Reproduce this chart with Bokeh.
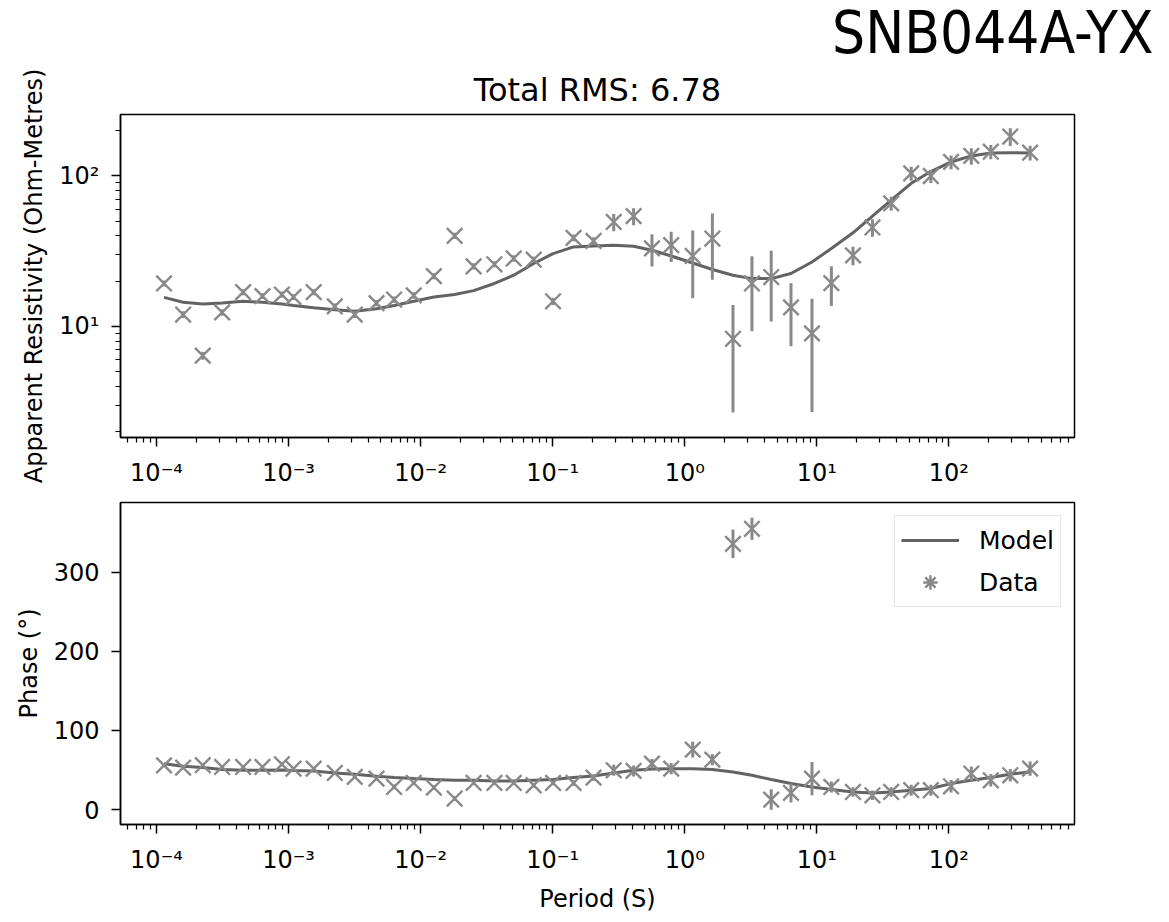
from bokeh.plotting import figure
from bokeh.layouts import column
from bokeh.models import (ColumnDataSource, Range1d, FixedTicker, CustomJSTickFormatter,
                          Title, Legend, LegendItem)
from bokeh.embed import file_html
from bokeh.resources import INLINE

# ---- station response: periods (s), apparent resistivity (Ohm-m) and phase (deg) ----
station = "SNB044A-YX"
total_rms = 6.78

period = [1.14e-4, 1.59e-4, 2.24e-4, 3.14e-4, 4.53e-4, 6.34e-4, 8.9e-4, 1.09e-3,
          1.55e-3, 2.24e-3, 3.17e-3, 4.63e-3, 6.3e-3, 8.87e-3, 1.26e-2, 1.81e-2,
          2.52e-2, 3.62e-2, 5.07e-2, 7.18e-2, 0.1007, 0.144, 0.204, 0.29, 0.41,
          0.565, 0.79, 1.15, 1.62, 2.32, 3.23, 4.52, 6.38, 9.2, 12.9, 18.8, 26.4,
          36.6, 51.9, 73.1, 104.0, 148.0, 208.0, 292.0, 413.0]

rho_data = [19.3, 12.0, 6.4, 12.4, 16.9, 15.9, 16.3, 15.7, 16.9, 13.6, 12.0, 14.3,
            15.1, 16.1, 21.6, 40.0, 25.1, 25.9, 28.3, 27.8, 14.7, 38.8, 37.0, 49.5,
            54.1, 33.0, 34.7, 29.4, 38.4, 8.28, 19.3, 21.3, 13.4, 9.0, 19.4, 29.7,
            45.5, 65.8, 104.0, 100.0, 124.0, 136.0, 145.0, 183.0, 143.0]

rho_err = [0.9, 0.6, 0.4, 0.6, 0.8, 0.7, 0.8, 0.7, 0.8, 0.6, 0.6, 0.7,
           0.7, 0.8, 1.0, 1.9, 1.2, 1.2, 1.4, 1.3, 0.8, 2.0, 2.2, 6.5,
           7.0, 8.0, 7.9, 14.0, 18.0, 5.6, 10.0, 10.5, 6.0, 6.3, 5.7, 4.2,
           6.0, 7.0, 11.0, 10.0, 13.0, 17.0, 16.0, 25.0, 16.0]

rho_model = [15.6, 14.5, 14.1, 14.3, 14.7, 14.5, 14.1, 13.8, 13.3, 12.9, 12.6, 13.1,
             13.8, 14.7, 15.7, 16.3, 17.3, 19.3, 21.9, 26.2, 30.5, 33.8, 34.2, 34.7,
             34.1, 32.1, 29.4, 26.4, 23.9, 21.9, 20.8, 20.8, 22.5, 26.8, 33.0, 41.9,
             54.1, 69.2, 89.4, 107.0, 124.0, 136.0, 142.0, 143.0, 142.0]

phase_data = [55.9, 53.0, 56.0, 53.8, 53.8, 53.8, 57.2, 51.7, 51.7, 46.2, 41.2, 39.1,
              28.5, 33.6, 27.8, 13.9, 33.6, 33.6, 33.6, 30.7, 33.6, 33.6, 40.4, 49.6,
              48.8, 58.0, 51.7, 75.8, 63.1, 335.8, 354.8, 12.6, 21.0, 39.1, 28.5, 22.2,
              18.0, 22.2, 24.4, 24.4, 29.4, 45.5, 37.0, 43.3, 51.7]

phase_err = [2.0, 2.0, 2.0, 2.0, 2.0, 2.0, 2.5, 2.0, 2.0, 2.0, 2.0, 2.5,
             3.0, 2.5, 3.0, 3.0, 2.5, 2.5, 2.5, 3.0, 3.0, 3.5, 4.0, 7.0,
             7.0, 6.0, 7.0, 10.0, 7.0, 18.0, 14.0, 13.0, 12.0, 21.0, 7.0, 6.0,
             6.0, 6.0, 7.0, 7.0, 8.0, 9.0, 8.0, 8.0, 9.0]

phase_model = [58.0, 54.7, 53.0, 50.5, 49.6, 49.6, 49.9, 49.2, 48.8, 46.2, 44.6, 42.0,
               40.4, 39.1, 37.9, 37.0, 37.0, 36.1, 36.1, 37.0, 37.9, 40.4, 42.5, 46.2,
               49.6, 51.3, 51.7, 51.7, 50.5, 47.5, 43.3, 37.9, 32.8, 28.5, 25.3, 22.2,
               21.0, 22.2, 24.4, 26.5, 32.8, 37.0, 40.4, 44.6, 47.5]

FONT = "DejaVu Sans"
DATA_COLOR = "#898989"
MODEL_COLOR = "#636363"

rho_src = ColumnDataSource(dict(
    period=period, rho=rho_data,
    lo=[v - e for v, e in zip(rho_data, rho_err)],
    hi=[v + e for v, e in zip(rho_data, rho_err)],
))
phase_src = ColumnDataSource(dict(
    period=period, phase=phase_data,
    lo=[v - e for v, e in zip(phase_data, phase_err)],
    hi=[v + e for v, e in zip(phase_data, phase_err)],
))

pow10_labels = CustomJSTickFormatter(code="""
const sup = {"-": "\u207b", "0": "\u2070", "1": "\u00b9", "2": "\u00b2", "3": "\u00b3",
             "4": "\u2074", "5": "\u2075", "6": "\u2076", "7": "\u2077", "8": "\u2078", "9": "\u2079"};
const e = Math.round(Math.log10(tick));
return "10" + String(e).split("").map(c => sup[c]).join("");
""")

x_major = [1e-4, 1e-3, 1e-2, 1e-1, 1.0, 10.0, 100.0]
x_minor = [m * 10.0 ** k for k in range(-5, 3) for m in range(2, 10)]
x_range = Range1d(5.336e-5, 895.0)


def style(p):
    p.xgrid.visible = False
    p.ygrid.visible = False
    p.outline_line_color = "black"
    p.outline_line_width = 1.5
    p.outline_line_alpha = 1.0
    p.background_fill_color = "white"
    p.border_fill_color = "white"
    for ax in (p.xaxis[0], p.yaxis[0]):
        ax.axis_line_color = "black"
        ax.axis_line_width = 1.5
        ax.major_tick_line_width = 1.5
        ax.major_tick_out = 9
        ax.major_tick_in = 0
        ax.minor_tick_line_width = 1.2
        ax.minor_tick_out = 5
        ax.minor_tick_in = 0
        ax.major_label_text_font = FONT
        ax.major_label_text_font_size = "24px"
        ax.major_label_text_color = "black"
        ax.major_label_standoff = 12
        ax.axis_label_text_font = FONT
        ax.axis_label_text_font_size = "24px"
        ax.axis_label_text_font_style = "normal"
        ax.axis_label_text_color = "black"
        ax.axis_label_standoff = 8
    p.xaxis.ticker = FixedTicker(ticks=x_major, minor_ticks=x_minor)
    p.xaxis.formatter = pow10_labels


def draw_data(p, src, ycol):
    p.segment(x0="period", y0="lo", x1="period", y1="hi", source=src,
              line_color=DATA_COLOR, line_width=3)
    return p.scatter("period", ycol, source=src, marker="x", size=22,
                     line_color=DATA_COLOR, line_width=2.4)


# ---- apparent resistivity ----
p1 = figure(width=1169, height=490, x_axis_type="log", y_axis_type="log",
            x_range=x_range, y_range=Range1d(1.828, 256.3),
            output_backend="svg", toolbar_location=None,
            min_border_left=120, min_border_right=95,
            min_border_top=0, min_border_bottom=53)
style(p1)
p1.yaxis.ticker = FixedTicker(ticks=[10.0, 100.0],
                              minor_ticks=[m * 10.0 ** k for k in range(0, 3) for m in range(2, 10)])
p1.yaxis.formatter = pow10_labels
p1.yaxis.axis_label = "Apparent Resistivity (Ohm-Metres)"

p1.line(period, rho_model, line_color=MODEL_COLOR, line_width=3)
draw_data(p1, rho_src, "rho")

p1.add_layout(Title(text=f"Total RMS: {total_rms:.2f}", align="center",
                    text_font=FONT, text_font_size="32px", text_font_style="normal",
                    text_color="black", standoff=12), "above")
p1.add_layout(Title(text=station, align="right", offset=-79,
                    text_font="DejaVu Sans Condensed, DejaVu Sans",
                    text_font_size="58px", text_font_style="normal",
                    text_color="black", standoff=-8), "above")

# ---- phase ----
p2 = figure(width=1169, height=432, x_axis_type="log",
            x_range=x_range, y_range=Range1d(-18.9, 388.0),
            output_backend="svg", toolbar_location=None,
            min_border_left=120, min_border_right=95,
            min_border_top=12, min_border_bottom=98)
style(p2)
p2.yaxis.ticker = FixedTicker(ticks=[0, 100, 200, 300], minor_ticks=[])
p2.yaxis.axis_label = "Phase (\u00b0)"
p2.xaxis.axis_label = "Period (S)"

model_line = p2.line(period, phase_model, line_color=MODEL_COLOR, line_width=3)
draw_data(p2, phase_src, "phase")
# legend swatch for the data series: marker crossed by its error bar
data_key = p2.scatter("period", "phase", source=phase_src, marker="asterisk", size=20,
                      line_color=DATA_COLOR, line_width=2.4, visible=False)

legend = Legend(items=[LegendItem(label="Model", renderers=[model_line]),
                       LegendItem(label="Data", renderers=[data_key])],
                location="top_right", margin=13, padding=6, spacing=6,
                glyph_width=58, glyph_height=36, label_standoff=20,
                label_text_font=FONT, label_text_font_size="25px", label_text_color="black",
                border_line_color="#cccccc", border_line_width=1.5,
                background_fill_color="white", background_fill_alpha=0.8)
p2.add_layout(legend)

layout = column(p1, p2, spacing=0)
with open("out.html", "w", encoding="utf-8") as f:
    f.write(file_html(layout, INLINE))
